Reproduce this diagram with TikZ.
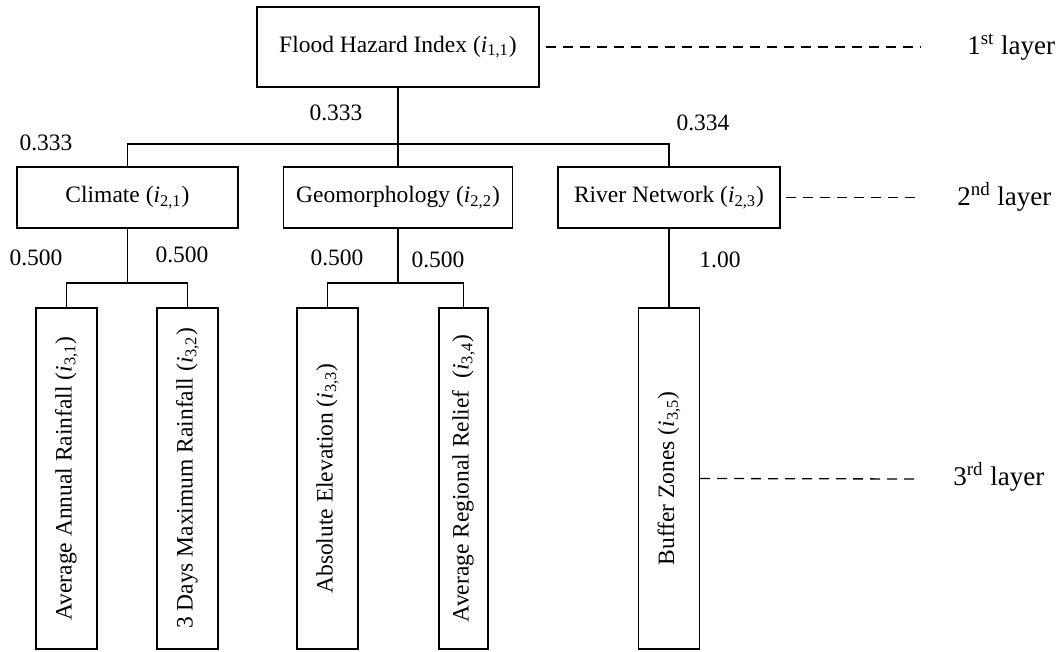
\documentclass[tikz,border=0pt]{standalone}
\usepackage{fontspec}
\setmainfont{Liberation Serif}
\begin{document}
\begin{tikzpicture}[x=0.5pt, y=-0.5pt, line width=0.65pt,
  box/.style={rectangle, draw, inner sep=0pt, font=\fontsize{11.75}{14}\selectfont},
  sidebox/.style={box, rotate=90, minimum width=170.5pt, minimum height=30.5pt},
  weight/.style={font=\fontsize{11.75}{14}\selectfont},
  layer/.style={anchor=west, font=\fontsize{13.5}{16}\selectfont},
  guide/.style={dash pattern=on 5pt off 3.5pt}]
  \useasboundingbox (0,0) rectangle (1062,652);
  % Nodes
  \node (FHI) [box, minimum width=141pt, minimum height=40pt] at (398,47) {Flood Hazard Index (\textit{i}\textsubscript{1,1})};
  \node (CLI) [box, minimum width=110.5pt, minimum height=30.5pt] at (127.5,197.5) {Climate (\textit{i}\textsubscript{2,1})};
  \node (GEO) [box, minimum width=114.5pt, minimum height=30.5pt] at (398,197.5) {Geomorphology (\textit{i}\textsubscript{2,2})};
  \node (RIV) [box, minimum width=111pt, minimum height=30.5pt] at (669,197.5) {River Network (\textit{i}\textsubscript{2,3})};
  \node (AAR) [sidebox] at (66.5,478.5) {Average Annual Rainfall (\textit{i}\textsubscript{3,1})};
  \node (DMR) [sidebox] at (187.5,478.5) {3 Days Maximum Rainfall (\textit{i}\textsubscript{3,2})};
  \node (AEL) [sidebox] at (327.5,478.5) {Absolute Elevation (\textit{i}\textsubscript{3,3})};
  \node (ARR) [sidebox, minimum height=24.5pt] at (463.5,478.5) {Average Regional Relief\ \ (\textit{i}\textsubscript{3,4})};
  \node (BUF) [sidebox] at (669,478.5) {Buffer Zones (\textit{i}\textsubscript{3,5})};
  % Junctions
  \coordinate (J1) at (398,144);
  \coordinate (J2) at (127.5,283);
  \coordinate (J3) at (398,283);
  % Connectors
  \draw (FHI) -- (GEO);
  \draw (CLI.north) |- (J1) -| (RIV.north);
  \draw (CLI) -- (J2);
  \draw (AAR.east) |- (J2) -| (DMR.east);
  \draw (GEO) -- (J3);
  \draw (AEL.east) |- (J3) -| (ARR.east);
  \draw (RIV) -- (BUF);
  % Weights
  \node (w11) [weight] at (46,143) {0.333};
  \node (w12) [weight] at (336,113) {0.333};
  \node (w13) [weight] at (703,123) {0.334};
  \node (w21) [weight] at (36,258) {0.500};
  \node (w22) [weight] at (182,255) {0.500};
  \node (w23) [weight] at (337,258) {0.500};
  \node (w24) [weight] at (438,260) {0.500};
  \node (w25) [weight] at (720,260) {1.00};
  % Layers
  \node (L1) [layer] at (960,47) {1\textsuperscript{st} layer};
  \node (L2) [layer] at (950,197) {2\textsuperscript{nd} layer};
  \node (L3) [layer] at (946,477) {3\textsuperscript{rd} layer};
  % Dashed lines
  \coordinate (D1) at (920,47);
  \coordinate (D2) at (917,197.5);
  \coordinate (D3) at (917,479);
  \draw[guide] ([xshift=3pt]FHI.east) -- (D1);
  \draw[guide] ([xshift=2.5pt]RIV.east) -- (D2);
  \draw[guide] (BUF.south) -- (D3);
\end{tikzpicture}
\end{document}
